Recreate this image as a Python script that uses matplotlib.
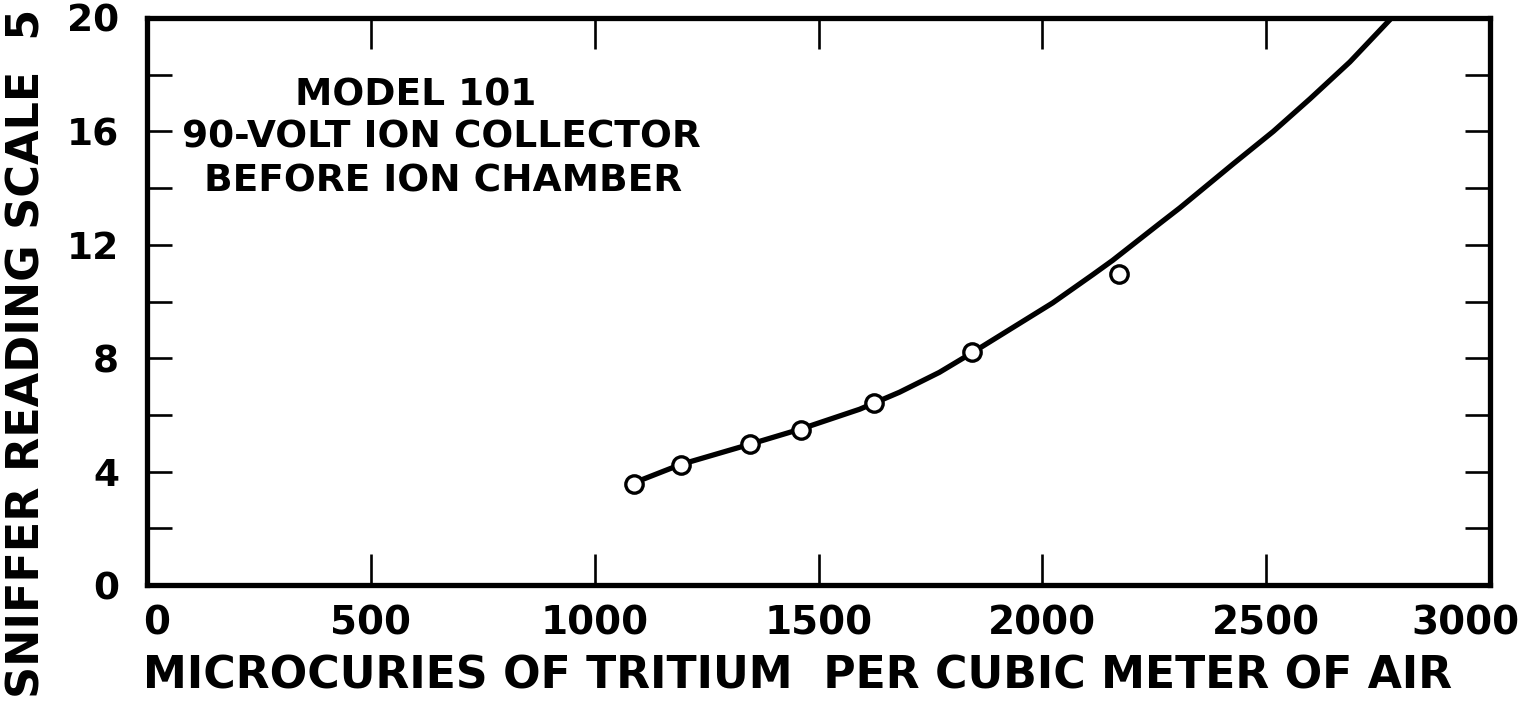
import matplotlib
matplotlib.use("Agg")
import matplotlib.pyplot as plt
import matplotlib.transforms as mtransforms

plt.rcParams['font.family'] = ['DejaVu Sans']
plt.rcParams['font.weight'] = 'bold'

# Data
point_x = [1087, 1192, 1348, 1460, 1623, 1844, 2171]
point_y = [3.57, 4.23, 4.97, 5.45, 6.41, 8.21, 10.97]

curve_x = [1087, 1192, 1348, 1460, 1592, 1681, 1770, 1844, 1934, 2023, 2113, 2157,
           2262, 2307, 2426, 2516, 2598, 2687, 2777]
curve_y = [3.60, 4.25, 4.97, 5.50, 6.20, 6.80, 7.50, 8.20, 9.08, 9.95, 10.95, 11.45,
           12.75, 13.30, 14.85, 16.00, 17.15, 18.45, 19.95]

x_ticks = [0, 500, 1000, 1500, 2000, 2500, 3000]
x_tick_labels = ["0", "500", "1000", "1500", "2000", "2500", "3000"]
y_major = [0, 4, 8, 12, 16, 20]
y_major_labels = ["0", "4", "8", "12", "16", "20"]
y_minor = [2, 6, 10, 14, 18]

title_lines = ["MODEL 101", "90-VOLT ION COLLECTOR", "BEFORE ION CHAMBER"]
x_label = "MICROCURIES OF TRITIUM  PER CUBIC METER OF AIR"
y_label = "SNIFFER READING SCALE  5"

W, H = 1523, 717
fig = plt.figure(figsize=(W / 100, H / 100), dpi=100)
ax = fig.add_axes([147 / W, 1 - 585 / H, (1490 - 147) / W, (585 - 18) / H])

ax.plot(curve_x, curve_y, color='black', lw=3.8, solid_capstyle='round',
        solid_joinstyle='round', zorder=2)
ax.plot(point_x, point_y, linestyle='none', marker='o', ms=12.5, mfc='white',
        mec='black', mew=2.4, zorder=3)

ax.set_xlim(0, 3000)
ax.set_ylim(0, 20)

for s in ax.spines.values():
    s.set_linewidth(3.8)

ax.set_xticks(x_ticks)
ax.set_xticklabels(x_tick_labels, fontsize=28, fontweight='bold')
ax.set_yticks(y_major)
ax.set_yticklabels(y_major_labels, fontsize=27, fontweight='bold')
ax.set_yticks(y_minor, minor=True)

ax.tick_params(axis='x', which='major', direction='in', length=22, width=1.9,
               top=True, bottom=True, pad=14)
ax.tick_params(axis='y', which='both', direction='in', length=18, width=1.9,
               left=True, right=True, pad=20)

# shift first/last x tick labels inward like the reference
labels = ax.get_xticklabels()
labels[0].set_transform(labels[0].get_transform() +
                        mtransforms.ScaledTranslation(10 / 100, 0, fig.dpi_scale_trans))
labels[-1].set_transform(labels[-1].get_transform() +
                         mtransforms.ScaledTranslation(-25 / 100, 0, fig.dpi_scale_trans))

# annotation block
centers = [(416, 95), (441, 138), (443, 181)]
for txt, (cx, cy) in zip(title_lines, centers):
    fig.text(cx / W, 1 - cy / H, txt, ha='center', va='center', fontsize=27,
             fontweight='bold')

fig.text(798 / W, 1 - 676 / H, x_label, ha='center', va='center', fontsize=31.8,
         fontweight='bold')
fig.text(27 / W, 1 - 353 / H, y_label, ha='center', va='center', fontsize=32,
         fontweight='bold', rotation=90)

fig.savefig("out.png", dpi=100)
